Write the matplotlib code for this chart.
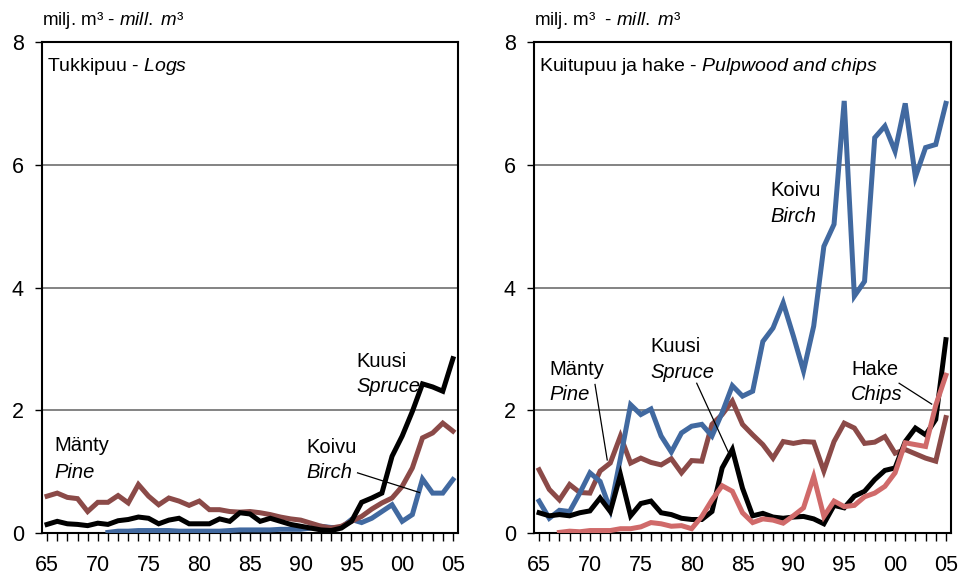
import numpy as np
import matplotlib
matplotlib.use("Agg")
import matplotlib.pyplot as plt

plt.rcParams["font.family"] = ["Liberation Sans", "DejaVu Sans"]
plt.rcParams["mathtext.fontset"] = "custom"
plt.rcParams["mathtext.rm"] = "Liberation Sans"
plt.rcParams["mathtext.it"] = "Liberation Sans:italic"

# ---- data (milj. m3) ----
years = np.arange(1965, 2006)

logs_spruce = [0.14, 0.19, 0.15, 0.14, 0.12, 0.16, 0.14, 0.20, 0.22, 0.26,
               0.24, 0.15, 0.21, 0.24, 0.15, 0.15, 0.15, 0.23, 0.19, 0.33,
               0.31, 0.19, 0.24, 0.19, 0.14, 0.11, 0.08, 0.05, 0.04, 0.08,
               0.19, 0.50, 0.57, 0.65, 1.25, 1.58, 1.98, 2.43, 2.38, 2.31,
               2.84]
logs_pine = [0.60, 0.65, 0.58, 0.56, 0.35, 0.50, 0.50, 0.61, 0.49, 0.79,
             0.60, 0.46, 0.57, 0.52, 0.45, 0.52, 0.38, 0.38, 0.35, 0.34,
             0.35, 0.33, 0.30, 0.26, 0.23, 0.21, 0.16, 0.11, 0.08, 0.11,
             0.19, 0.27, 0.39, 0.49, 0.57, 0.76, 1.06, 1.55, 1.63, 1.79,
             1.66]
logs_birch_years = np.arange(1971, 2006)
logs_birch = [0.01, 0.03, 0.03, 0.04, 0.04, 0.04, 0.04, 0.03, 0.03, 0.03,
              0.03, 0.03, 0.04, 0.05, 0.05, 0.05, 0.05, 0.06, 0.06, 0.06,
              0.08, 0.11, 0.09, 0.09, 0.22, 0.17, 0.24, 0.35, 0.46, 0.19,
              0.30, 0.88, 0.65, 0.65, 0.87]

pulp_birch = [0.52, 0.24, 0.37, 0.35, 0.65, 0.98, 0.84, 0.38, 1.22, 2.09,
              1.93, 2.02, 1.58, 1.32, 1.63, 1.74, 1.77, 1.58, 1.96, 2.40,
              2.23, 2.31, 3.12, 3.34, 3.75, 3.21, 2.64, 3.37, 4.67, 5.03,
              7.04, 3.86, 4.10, 6.44, 6.63, 6.22, 7.00, 5.80, 6.28, 6.33,
              7.00]
pulp_pine = [1.03, 0.71, 0.54, 0.79, 0.66, 0.65, 1.01, 1.14, 1.58, 1.14,
             1.22, 1.15, 1.11, 1.21, 0.98, 1.18, 1.17, 1.77, 1.93, 2.15,
             1.77, 1.60, 1.44, 1.22, 1.49, 1.46, 1.49, 1.48, 1.01, 1.49,
             1.79, 1.71, 1.46, 1.48, 1.57, 1.30, 1.36, 1.29, 1.22, 1.17,
             1.88]
pulp_spruce = [0.33, 0.28, 0.30, 0.28, 0.33, 0.36, 0.57, 0.35, 0.95, 0.28,
               0.48, 0.52, 0.33, 0.30, 0.24, 0.22, 0.22, 0.35, 1.06, 1.36,
               0.73, 0.28, 0.32, 0.26, 0.24, 0.26, 0.27, 0.23, 0.15, 0.45,
               0.41, 0.60, 0.68, 0.87, 1.02, 1.06, 1.49, 1.71, 1.60, 1.85,
               3.15]
chips_years = np.arange(1967, 2006)
pulp_chips = [0.01, 0.03, 0.02, 0.04, 0.04, 0.04, 0.07, 0.07, 0.10, 0.17,
              0.15, 0.11, 0.12, 0.07, 0.27, 0.54, 0.77, 0.68, 0.33, 0.17,
              0.23, 0.21, 0.16, 0.28, 0.41, 0.92, 0.27, 0.52, 0.43, 0.45,
              0.59, 0.65, 0.76, 0.98, 1.47, 1.44, 1.41, 2.08, 2.57]

xtick_years = [1965, 1970, 1975, 1980, 1985, 1990, 1995, 2000, 2005]
xtick_labels = ["65", "70", "75", "80", "85", "90", "95", "00", "05"]

C_SPRUCE = "#000000"
C_PINE = "#8b4a48"
C_BIRCH = "#4169a0"
C_CHIPS = "#d06a6a"
LW = 3.6
FS = 14.5

W, H = 959, 578
fig = plt.figure(figsize=(W / 100, H / 100), dpi=100)
ax1 = fig.add_axes([42 / W, 45 / H, 416 / W, 491 / H])
ax2 = fig.add_axes([534 / W, 45 / H, 417 / W, 491 / H])


def style(ax, title, unit):
    ax.set_ylim(0, 8)
    ax.set_xlim(1964.5, 2005.5)
    ax.set_yticks([0, 2, 4, 6, 8])
    ax.set_xticks(xtick_years)
    ax.set_xticklabels(xtick_labels)
    ax.set_xticks(years, minor=True)
    ax.tick_params(axis="x", which="both", direction="out", length=6,
                   width=1, labelsize=15.5, pad=10)
    ax.tick_params(axis="y", direction="out", length=5, width=1,
                   labelsize=15.5, pad=8)
    for y in [2, 4, 6]:
        ax.axhline(y, color="#6e6e6e", lw=1.2, zorder=1)
    for s in ax.spines.values():
        s.set_linewidth(1.5)
    ax.text(0.012, 0.972, title, transform=ax.transAxes, ha="left",
            va="top", fontsize=14)
    ax.text(0.0, 1.022, unit, transform=ax.transAxes, ha="left",
            va="bottom", fontsize=13.5)


def label(ax, x, y1, y2, fi, en):
    ax.text(x, y1, fi, fontsize=FS, va="baseline", zorder=8)
    ax.text(x, y2, en, fontsize=FS, va="baseline", style="italic", zorder=8)


# ---- vasen: tukkipuu ----
style(ax1, "Tukkipuu - $\\it{Logs}$", "milj. m³ - $\\it{mill.\\ m³}$")
ax1.plot(logs_birch_years, logs_birch, color=C_BIRCH, lw=LW, zorder=3,
         solid_joinstyle="miter")
ax1.plot(years, logs_pine, color=C_PINE, lw=LW, zorder=4,
         solid_joinstyle="miter")
ax1.plot(years, logs_spruce, color=C_SPRUCE, lw=LW, zorder=5,
         solid_joinstyle="miter")

label(ax1, 1965.75, 1.33, 0.90, "Mänty", "Pine")
label(ax1, 1995.45, 2.71, 2.29, "Kuusi", "Spruce")
label(ax1, 1990.6, 1.31, 0.89, "Koivu", "Birch")
ax1.plot([1995.6, 2001.7], [0.98, 0.66], color="black", lw=0.9, zorder=6)

# ---- oikea: kuitupuu ja hake ----
style(ax2, "Kuitupuu ja hake - $\\it{Pulpwood\\ and\\ chips}$",
      "milj. m³  - $\\it{mill.\\ m³}$")
ax2.plot(years, pulp_pine, color=C_PINE, lw=LW, zorder=3,
         solid_joinstyle="miter")
ax2.plot(years, pulp_birch, color=C_BIRCH, lw=LW, zorder=4,
         solid_joinstyle="miter")
ax2.plot(years, pulp_spruce, color=C_SPRUCE, lw=LW, zorder=5,
         solid_joinstyle="miter")
ax2.plot(chips_years, pulp_chips, color=C_CHIPS, lw=LW, zorder=6,
         solid_joinstyle="miter")

label(ax2, 1966.0, 2.58, 2.17, "Mänty", "Pine")
ax2.plot([1970.5, 1971.7], [2.42, 1.19], color="black", lw=0.9, zorder=7)
label(ax2, 1975.9, 2.95, 2.53, "Kuusi", "Spruce")
ax2.plot([1980.5, 1983.6], [2.44, 1.32], color="black", lw=0.9, zorder=7)
label(ax2, 1987.7, 5.49, 5.06, "Koivu", "Birch")
label(ax2, 1995.7, 2.58, 2.16, "Hake", "Chips")
ax2.plot([2000.4, 2003.6], [2.44, 2.10], color="black", lw=0.9, zorder=7)

fig.savefig("out.png", dpi=100)
